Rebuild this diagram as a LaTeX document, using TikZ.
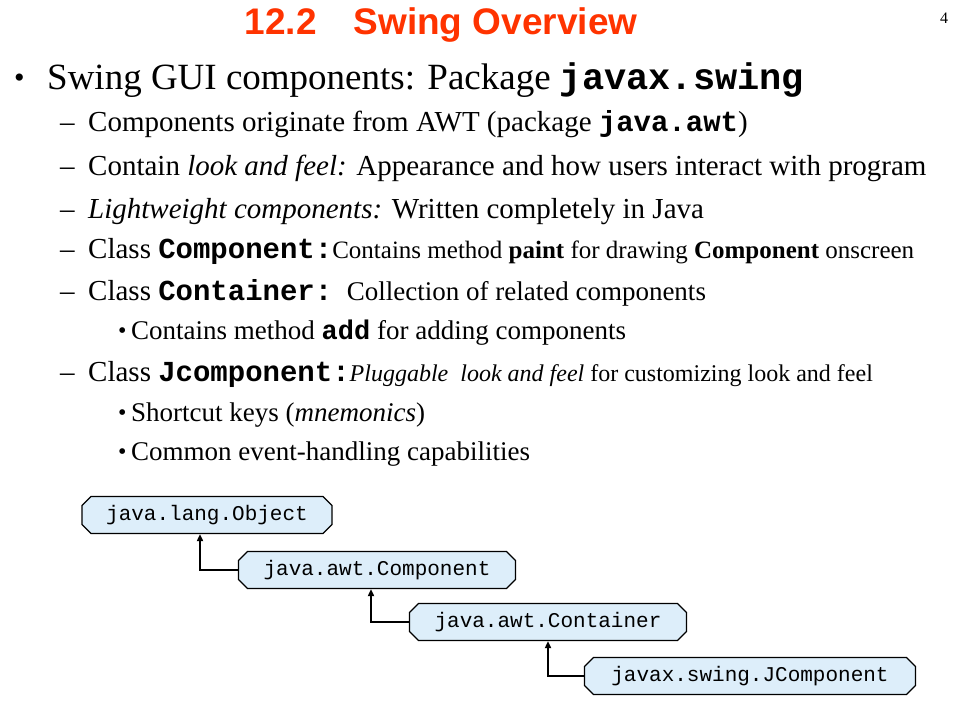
\documentclass[tikz,border=0pt]{standalone}
\usepackage{fontspec}
\setmainfont{Liberation Serif}
\setsansfont{Liberation Sans}
\setmonofont{Liberation Mono}
\usetikzlibrary{shapes.misc,arrows.meta}
\definecolor{ttl}{HTML}{FF3300}
\definecolor{boxfill}{HTML}{DDEEFA}
\tikzset{
  cls/.style={chamfered rectangle, chamfered rectangle xsep=6pt, draw=black, line width=1.2pt, fill=boxfill, minimum height=37pt, inner xsep=10pt, font=\fontsize{21}{21}\ttfamily},
  txt/.style={anchor=base west, inner sep=0pt},
  link/.style={line width=2pt, -{Triangle[length=7pt,width=6pt]}}
}
\begin{document}
\begin{tikzpicture}[x=1pt,y=-1pt]
\useasboundingbox (0,0) rectangle (960,720);
\node[anchor=base, inner sep=0pt, font=\fontsize{37}{37}\sffamily\bfseries, text=ttl] (title) at (441,34) {12.2\quad Swing Overview};
\node[txt, font=\fontsize{16}{16}\selectfont] (pg) at (940,23) {4};
\node[txt, font=\fontsize{30}{30}\selectfont] (b1) at (14,87) {•};
\node[txt, font=\fontsize{37}{37}\selectfont] (l1) at (47,89) {Swing GUI components: Package \textbf{\ttfamily javax.swing}};
\foreach \y/\n in {131/a,175/b,218/c,258/d,300/e,381/f}{\node[txt, font=\fontsize{29}{29}\selectfont] (d\n) at (60,\y) {–};}
\node[txt, font=\fontsize{29}{29}\selectfont] (l2) at (88,131) {Components originate from AWT (package \textbf{\ttfamily java.awt})};
\node[txt, font=\fontsize{29}{29}\selectfont] (l3) at (88,175) {Contain \textit{look and feel:} Appearance and how users interact with program};
\node[txt, font=\fontsize{29}{29}\selectfont] (l4) at (88,218) {\textit{Lightweight components:} Written completely in Java};
\node[txt, font=\fontsize{29}{29}\selectfont] (l5) at (88,258) {Class \textbf{\ttfamily Component:}\fontsize{25}{25}\selectfont Contains method \textbf{paint} for drawing \textbf{Component} onscreen};
\node[txt, font=\fontsize{29}{29}\selectfont] (l6) at (88,300) {Class \textbf{\ttfamily Container:}\ \ \fontsize{27}{27}\selectfont Collection of related components};
\node[txt, font=\fontsize{24}{24}\selectfont] (bb1) at (118,338) {•};
\node[txt, font=\fontsize{27}{27}\selectfont] (l7) at (131,339) {Contains method \textbf{\ttfamily add} for adding components};
\node[txt, font=\fontsize{29}{29}\selectfont] (l8) at (88,381) {Class \textbf{\ttfamily Jcomponent:}\fontsize{24}{24}\selectfont\textit{Pluggable\ \ look and feel} for customizing look and feel};
\node[txt, font=\fontsize{24}{24}\selectfont] (bb2) at (118,420) {•};
\node[txt, font=\fontsize{27}{27}\selectfont] (l9) at (131,421) {Shortcut keys (\textit{mnemonics})};
\node[txt, font=\fontsize{24}{24}\selectfont] (bb3) at (118,459) {•};
\node[txt, font=\fontsize{27}{27}\selectfont] (l10) at (131,460) {Common event-handling capabilities};
\node[cls, minimum width=250pt] (obj) at (207,515) {java.lang.Object};
\node[cls, minimum width=277pt] (comp) at (377,570) {java.awt.Component};
\node[cls, minimum width=277pt] (cont) at (548,622) {java.awt.Container};
\node[cls, minimum width=331pt] (jc) at (750,676) {javax.swing.JComponent};
\draw[link] (comp.west) -| (obj.south -| 200,0);
\draw[link] (cont.west) -| (comp.south -| 371,0);
\draw[link] (jc.west) -| (cont.south -| 548,0);
\end{tikzpicture}
\end{document}
